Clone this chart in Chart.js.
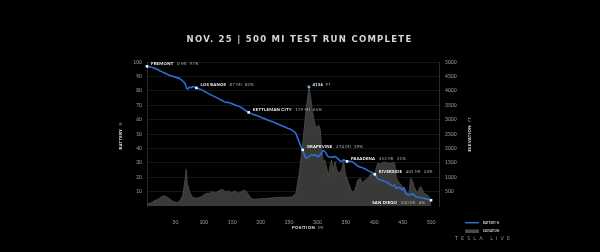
<!DOCTYPE html>
<html>
<head>
<meta charset="utf-8">
<script src="https://cdn.jsdelivr.net/npm/chart.js@4.4.1/dist/chart.umd.min.js"></script>
<style>
  html, body { margin: 0; padding: 0; background: #000; overflow: hidden; }
  canvas { display: block; }
</style>
</head>
<body>
<canvas id="c" width="600" height="252"></canvas>
<script>
// ---- data ----
const titleText = 'NOV. 25 | 500 MI TEST RUN COMPLETE';

const batteryMiles = [0, 12.4, 24.9, 37.3, 49.7, 59, 63.4, 67.1, 69.6, 72.1, 74.6, 77.7, 80.8, 87,
  98.3, 109.6, 120.9, 132.2, 137.8, 143.4, 154.7, 166, 171.7, 179,
  189, 200.7, 212.4, 224.2, 235.9, 247.6, 256.4, 262.3, 266.4, 269.9, 274,
  277, 280, 283, 289, 295, 301, 307, 310, 313, 319, 325, 331, 337, 341.8, 346, 352,
  360, 370.6, 381.3, 392, 401,
  405.8, 414.7, 423.7, 432.6, 435.6, 438.6, 444.5, 449.5, 452.5, 455.5, 461.4, 467.4, 473.4, 479.3, 488.3, 500];
const batteryPct = [97, 95.8, 93.5, 91.2, 89.5, 88.1, 86.5, 84.9, 81.9, 81.2, 82.6, 82.1, 83.0, 82,
  80.3, 77.7, 75.6, 73.3, 72.1, 71.9, 70.1, 68.4, 66.8, 65,
  63.3, 61.7, 59.8, 58, 55.9, 54, 52.4, 50.1, 45.9, 42.4, 39,
  35.5, 33.2, 33.9, 35.3, 35.5, 34.3, 36.7, 38.5, 37.8, 34.3, 33.9, 34.3, 32.5, 30.9, 32, 31,
  30.9, 27.8, 26.2, 23.9, 22,
  19.3, 17.6, 16.2, 13.9, 14.6, 12.3, 13, 11.1, 12.8, 8.8, 7.7, 8.4, 6.5, 6, 5.3, 4];

const elevationMiles = [0, 3, 6, 12, 19, 25, 28, 33, 37, 43, 47, 53, 59, 63, 67, 69, 71, 75, 80, 87,
  96, 104, 110, 115, 121, 127, 132, 138, 143, 149, 155, 160, 166, 172, 177, 183, 189, 201, 212, 224,
  236, 248, 256, 262, 268, 274, 280, 283, 285, 288, 290, 294, 296, 299, 302, 305, 307, 310, 313, 316,
  319, 322, 325, 328, 331, 334, 337, 343, 346, 349, 355, 360, 365, 371, 376, 379, 384, 389, 395, 400,
  406, 412, 417, 421, 428, 432, 436, 439, 445, 450, 456, 461, 464, 467, 470, 476, 479, 482, 488, 494, 500];
const elevationFeet = [60, 90, 100, 170, 232, 300, 360, 330, 290, 200, 151, 116, 209, 383, 905, 1276, 789, 499, 302, 267,
  325, 441, 441, 499, 464, 534, 580, 499, 522, 464, 522, 441, 499, 557, 441, 267, 232, 255, 267, 290,
  302, 302, 325, 441, 1137, 2181, 3341, 3805, 4136, 3805, 3457, 2993, 2819, 2703, 2819, 2645, 2065, 1543, 1601, 1369,
  1021, 1369, 1601, 1253, 1543, 1253, 1137, 1253, 1601, 1137, 789, 499, 499, 905, 963, 789, 905, 963, 1137, 1079,
  1485, 1460, 1530, 1508, 1470, 1520, 1485, 963, 789, 673, 499, 441, 963, 905, 673, 441, 615, 673, 441, 383, 209];

const stopNames = ['FREMONT', 'LOS BANOS', 'KETTLEMAN CITY', 'GRAPEVINE', 'PASADENA', 'RIVERSIDE', 'SAN DIEGO'];
const stopMiles = [0, 87, 179, 274, 352, 401, 500];
const stopPct = [97, 82, 65, 39, 31, 22, 4];

const summitMiles = [285];
const summitFeet = [4136];

const mileTicks = [50, 100, 150, 200, 250, 300, 350, 400, 450, 500];
const batteryTicks = [10, 20, 30, 40, 50, 60, 70, 80, 90, 100];
const elevationTicks = [500, 1000, 1500, 2000, 2500, 3000, 3500, 4000, 4500, 5000];

const legendNames = ['BATTERY %', 'ELEVATION'];

// ---- helpers ----
const zip = (xs, ys) => xs.map((x, i) => ({ x, y: ys[i] }));

function drawRuns(ctx, x, y, runs, align) {
  let total = 0;
  runs.forEach(r => {
    ctx.font = r.font;
    ctx.letterSpacing = r.spacing || '0px';
    r.w = ctx.measureText(r.text).width;
    total += r.w + (r.gap || 0);
  });
  let cx = align === 'right' ? x - total : align === 'center' ? x - total / 2 : x;
  ctx.textAlign = 'left';
  ctx.textBaseline = 'middle';
  runs.forEach(r => {
    ctx.font = r.font;
    ctx.letterSpacing = r.spacing || '0px';
    ctx.fillStyle = r.color;
    ctx.fillText(r.text, cx, y);
    cx += r.w + (r.gap || 0);
  });
  ctx.letterSpacing = '0px';
}

function spacingToFit(ctx, text, font, width) {
  ctx.font = font;
  ctx.letterSpacing = '0px';
  const w = ctx.measureText(text).width;
  return Math.max(0, (width - w) / text.length) + 'px';
}

const SMALL = 'Lato, "DejaVu Sans", sans-serif';

// ---- decorations: title, axis titles, point labels, legend ----
const decorations = {
  id: 'decorations',
  beforeDraw(chart) {
    const ctx = chart.ctx;
    ctx.save();
    ctx.fillStyle = '#000';
    ctx.fillRect(0, 0, chart.width, chart.height);
    ctx.restore();
  },
  afterDatasetsDraw(chart) {
    const ctx = chart.ctx;
    const area = chart.chartArea;
    ctx.save();

    // title
    const tFont = 'bold 8.5px "DejaVu Sans", sans-serif';
    drawRuns(ctx, 299.5, 40, [{ text: titleText, font: tFont, color: '#d6d6d6',
      spacing: spacingToFit(ctx, titleText, tFont, 226) }], 'center');

    // axis titles
    const aFont = 'bold 4.2px ' + SMALL;
    ctx.save();
    ctx.translate(121, 136);
    ctx.rotate(-Math.PI / 2);
    drawRuns(ctx, 0, 0, [
      { text: 'BATTERY', font: aFont, color: '#f0f0f0', gap: 3, spacing: '0.4px' },
      { text: '%', font: '4.2px ' + SMALL, color: '#aaa' }], 'center');
    ctx.restore();

    ctx.save();
    ctx.translate(470, 134);
    ctx.rotate(-Math.PI / 2);
    drawRuns(ctx, 0, 0, [
      { text: 'ELEVATION', font: aFont, color: '#f0f0f0', gap: 3, spacing: '0.4px' },
      { text: 'FT', font: '4.2px ' + SMALL, color: '#aaa', spacing: '0.4px' }], 'center');
    ctx.restore();

    drawRuns(ctx, 292, 227.5, [
      { text: 'POSITION', font: aFont, color: '#f0f0f0', gap: 3, spacing: '0.4px' },
      { text: 'MI', font: '4.2px ' + SMALL, color: '#aaa', spacing: '0.4px' }], 'left');

    // stop labels
    const stopMeta = chart.getDatasetMeta(2);
    const nFont = 'bold 4.3px ' + SMALL;
    const vFont = '4.3px ' + SMALL;
    stopMeta.data.forEach((pt, i) => {
      const runs = [
        { text: stopNames[i], font: nFont, color: '#ffffff', gap: 3.5, spacing: '0.2px' },
        { text: stopMiles[i] + ' MI', font: vFont, color: '#b4b4b4', gap: 3, spacing: '0.2px' },
        { text: stopPct[i] + '%', font: vFont, color: '#b4b4b4', spacing: '0.2px' }
      ];
      // labels that would run past the plot edge go on the left of their point
      if (pt.x > area.right - 60) {
        drawRuns(ctx, pt.x - 6, pt.y + 2.5, runs, 'right');
      } else {
        drawRuns(ctx, pt.x + 4, pt.y - 3, runs, 'left');
      }
    });

    // summit label
    const sMeta = chart.getDatasetMeta(3);
    sMeta.data.forEach((pt, i) => {
      drawRuns(ctx, pt.x + 3.5, pt.y - 2, [
        { text: String(summitFeet[i]), font: nFont, color: '#ffffff', gap: 2.5, spacing: '0.2px' },
        { text: 'FT', font: vFont, color: '#b4b4b4', spacing: '0.2px' }], 'left');
    });

    // legend
    ctx.strokeStyle = '#2d6fd8';
    ctx.lineWidth = 1.5;
    ctx.beginPath();
    ctx.moveTo(465, 222.7);
    ctx.lineTo(479, 222.7);
    ctx.stroke();
    ctx.fillStyle = '#4a4b48';
    ctx.fillRect(465, 229.5, 14, 3.5);
    const lFont = 'bold 3px ' + SMALL;
    drawRuns(ctx, 483, 222.8, [{ text: legendNames[0], font: lFont, color: '#d0d0d0' }], 'left');
    drawRuns(ctx, 483, 231.3, [{ text: legendNames[1], font: lFont, color: '#d0d0d0' }], 'left');

    // footer brand
    const bText = 'TESLA LIVE';
    const bFont = '5px "DejaVu Sans", sans-serif';
    drawRuns(ctx, 455, 238.5, [{ text: bText, font: bFont, color: '#8c8c8c',
      spacing: spacingToFit(ctx, bText, bFont, 58) }], 'left');

    ctx.restore();
  }
};

// ---- chart ----
const tickFont = { family: 'Lato, "DejaVu Sans", sans-serif', size: 5 };
const plainTick = v => String(v);

new Chart(document.getElementById('c'), {
  type: 'line',
  data: {
    datasets: [
      {
        label: 'BATTERY %',
        data: zip(batteryMiles, batteryPct),
        yAxisID: 'y',
        borderColor: '#2d6fd8',
        borderWidth: 1.6,
        pointRadius: 0,
        cubicInterpolationMode: 'monotone',
        fill: false,
        order: 1
      },
      {
        label: 'ELEVATION',
        data: zip(elevationMiles, elevationFeet),
        yAxisID: 'y1',
        borderColor: '#4b4c48',
        borderWidth: 0.8,
        backgroundColor: '#393a37',
        pointRadius: 0,
        tension: 0,
        fill: 'origin',
        order: 3
      },
      {
        label: 'stops',
        data: zip(stopMiles, stopPct),
        yAxisID: 'y',
        showLine: false,
        pointStyle: 'rect',
        pointRadius: 1.8,
        pointBackgroundColor: '#ffffff',
        pointBorderWidth: 0,
        clip: false,
        order: 0
      },
      {
        label: 'summit',
        data: zip(summitMiles, summitFeet),
        yAxisID: 'y1',
        showLine: false,
        pointStyle: 'rect',
        pointRadius: 1.8,
        pointBackgroundColor: '#6db8ff',
        pointBorderWidth: 0,
        clip: false,
        order: 0
      }
    ]
  },
  options: {
    responsive: false,
    animation: false,
    devicePixelRatio: 1,
    layout: { padding: { left: 127, right: 121, top: 62, bottom: 26 } },
    plugins: { legend: { display: false }, tooltip: { enabled: false }, title: { display: false } },
    scales: {
      x: {
        type: 'linear',
        min: 0,
        max: 514,
        afterBuildTicks: s => { s.ticks = mileTicks.map(v => ({ value: v })); },
        afterFit: s => { s.height = 20; },
        ticks: { color: '#a0a0a0', font: tickFont, padding: 5, maxRotation: 0, callback: plainTick },
        grid: { display: false },
        border: { display: false }
      },
      y: {
        position: 'left',
        min: 0,
        max: 100,
        afterBuildTicks: s => { s.ticks = batteryTicks.map(v => ({ value: v })); },
        afterFit: s => { s.width = 20; },
        ticks: { color: '#a0a0a0', font: tickFont, padding: 5, callback: plainTick },
        grid: { color: '#161616', lineWidth: 1, drawTicks: false },
        border: { display: true, color: '#2a2a2a' }
      },
      y1: {
        position: 'right',
        min: 0,
        max: 5000,
        afterBuildTicks: s => { s.ticks = elevationTicks.map(v => ({ value: v })); },
        afterFit: s => { s.width = 40; },
        ticks: { color: '#a0a0a0', font: tickFont, padding: 6, callback: plainTick },
        grid: { drawOnChartArea: false, drawTicks: false },
        border: { display: true, color: '#2a2a2a' }
      }
    }
  },
  plugins: [decorations]
});
</script>
</body>
</html>
